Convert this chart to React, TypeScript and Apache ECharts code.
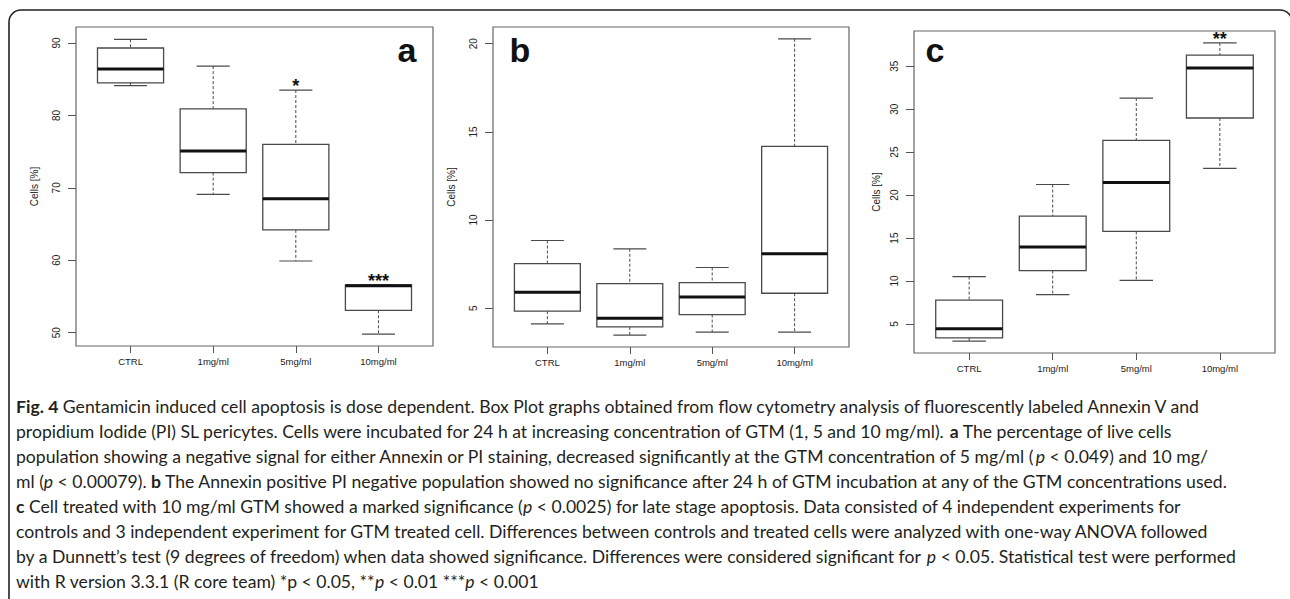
import React, { useEffect, useRef } from "react";
import * as echarts from "echarts";

// ---------- data ----------
const categories = ["CTRL", "1mg/ml", "5mg/ml", "10mg/ml"];
// each row: [lower whisker, Q1, median, Q3, upper whisker]
const panelA = [
  [84.1, 84.5, 86.4, 89.3, 90.5],
  [69.1, 72.1, 75.1, 80.9, 86.8],
  [59.9, 64.2, 68.5, 76.0, 83.5],
  [49.8, 53.1, 56.5, 56.6, 56.6],
];
const panelB = [
  [4.11, 4.83, 5.91, 7.53, 8.84],
  [3.47, 3.94, 4.43, 6.4, 8.37],
  [3.64, 4.64, 5.63, 6.45, 7.31],
  [3.64, 5.85, 8.09, 14.18, 20.28],
];
const panelC = [
  [3.02, 3.4, 4.44, 7.77, 10.52],
  [8.43, 11.22, 13.96, 17.55, 21.23],
  [10.09, 15.78, 21.46, 26.37, 31.29],
  [23.12, 28.97, 34.8, 36.28, 37.7],
];
const sigA = ["", "", "*", "***"];
const sigB = ["", "", "", ""];
const sigC = ["", "", "", "**"];
const ticksA = [50, 60, 70, 80, 90];
const ticksB = [5, 10, 15, 20];
const ticksC = [5, 10, 15, 20, 25, 30, 35];
const rangeA = [48.17, 92.2];
const rangeB = [2.8, 20.95];
const rangeC = [1.63, 39.09];
const panelLetters = ["a", "b", "c"];
const yName = "Cells [%]";

const captionLines = [
  "{b|Fig. 4} Gentamicin induced cell apoptosis is dose dependent. Box Plot graphs obtained from flow cytometry analysis of fluorescently labeled Annexin V and",
  "propidium Iodide (PI) SL pericytes. Cells were incubated for 24 h at increasing concentration of GTM (1, 5 and 10 mg/ml). {b|a} The percentage of live cells",
  "population showing a negative signal for either Annexin or PI staining, decreased significantly at the GTM concentration of 5 mg/ml ({i|p} < 0.049) and 10 mg/",
  "ml ({i|p} < 0.00079). {b|b} The Annexin positive PI negative population showed no significance after 24 h of GTM incubation at any of the GTM concentrations used.",
  "{b|c} Cell treated with 10 mg/ml GTM showed a marked significance ({i|p} < 0.0025) for late stage apoptosis. Data consisted of 4 independent experiments for",
  "controls and 3 independent experiment for GTM treated cell. Differences between controls and treated cells were analyzed with one-way ANOVA followed",
  "by a Dunnett\u2019s test (9 degrees of freedom) when data showed significance. Differences were considered significant for {i|p} < 0.05. Statistical test were performed",
  "with R version 3.3.1 (R core team) *p < 0.05, **{i|p} < 0.01 ***{i|p} < 0.001",
];

// ---------- layout ----------
const grids = [
  { left: 76, top: 27, width: 357, height: 319 },
  { left: 493, top: 27, width: 356, height: 320 },
  { left: 914, top: 31, width: 361, height: 322 },
];
const letterPos = [
  [407, 50],
  [520, 50],
  [935, 50],
];
const nameGaps = [37, 37, 33];

const AX_FONT = "'Liberation Sans Narrow', 'Liberation Sans', Arial, sans-serif";
const LINE = "#4a4a4a";
const CAP_FONT = "Lato, 'Open Sans', sans-serif";
const CAP_SIZE = 17.6;

function makeRender(sig: string[]) {
  return (params: any, api: any) => {
    const x = api.value(0);
    const lo = api.value(1);
    const q1 = api.value(2);
    const med = api.value(3);
    const q3 = api.value(4);
    const hi = api.value(5);
    const left = api.coord([x - 0.4, q3]);
    const right = api.coord([x + 0.4, q1]);
    const mid = api.coord([x, med]);
    const cl = api.coord([x - 0.2, hi])[0];
    const cr = api.coord([x + 0.2, hi])[0];
    const yHi = api.coord([x, hi])[1];
    const yLo = api.coord([x, lo])[1];
    const cx = mid[0];
    const children: any[] = [
      {
        type: "line",
        shape: { x1: cx, y1: yHi, x2: cx, y2: left[1] },
        style: { stroke: LINE, lineWidth: 1, lineDash: [3, 2] },
      },
      {
        type: "line",
        shape: { x1: cx, y1: right[1], x2: cx, y2: yLo },
        style: { stroke: LINE, lineWidth: 1, lineDash: [3, 2] },
      },
      {
        type: "line",
        shape: { x1: cl, y1: yHi, x2: cr, y2: yHi },
        style: { stroke: LINE, lineWidth: 1.2 },
      },
      {
        type: "line",
        shape: { x1: cl, y1: yLo, x2: cr, y2: yLo },
        style: { stroke: LINE, lineWidth: 1.2 },
      },
      {
        type: "rect",
        shape: { x: left[0], y: left[1], width: right[0] - left[0], height: right[1] - left[1] },
        style: { fill: "#fff", stroke: LINE, lineWidth: 1.3 },
      },
      {
        type: "line",
        shape: { x1: left[0], y1: mid[1], x2: right[0], y2: mid[1] },
        style: { stroke: "#111", lineWidth: 3 },
      },
    ];
    const s = sig[params.dataIndex];
    if (s) {
      children.push({
        type: "text",
        style: {
          text: s,
          x: cx,
          y: yHi - 4,
          align: "center",
          verticalAlign: "middle",
          fontSize: 18,
          fontWeight: "bold",
          fontFamily: "'Liberation Sans', Arial, sans-serif",
          fill: "#111",
        },
      });
    }
    return { type: "group", children };
  };
}

function toData(rows: number[][]) {
  return rows.map((r, i) => [i + 1, ...r]);
}

export default function App() {
  const ref = useRef<HTMLDivElement>(null);
  useEffect(() => {
    if (!ref.current) return;
    const chart = echarts.init(ref.current, undefined, { renderer: "svg" });
    const panels = [
      { rows: panelA, sig: sigA, ticks: ticksA, range: rangeA },
      { rows: panelB, sig: sigB, ticks: ticksB, range: rangeB },
      { rows: panelC, sig: sigC, ticks: ticksC, range: rangeC },
    ];
    const capStyle = { fontSize: CAP_SIZE, fontFamily: CAP_FONT, fill: "#231f20" };
    const option: any = {
      animation: false,
      backgroundColor: "#fff",
      grid: grids.map((g) => ({
        ...g,
        show: true,
        borderColor: "#666",
        borderWidth: 1.2,
        backgroundColor: "transparent",
        containLabel: false,
      })),
      xAxis: panels.map((p, i) => ({
        type: "value",
        gridIndex: i,
        min: 0.34,
        max: 4.66,
        axisLine: { show: false },
        splitLine: { show: false },
        axisTick: {
          show: true,
          length: 7,
          customValues: [1, 2, 3, 4],
          lineStyle: { color: "#555", width: 1 },
        },
        axisLabel: {
          customValues: [1, 2, 3, 4],
          formatter: (v: number) => categories[Math.round(v) - 1] || "",
          margin: 10,
          fontSize: 9.5,
          fontFamily: AX_FONT,
          color: "#222",
        },
      })),
      yAxis: panels.map((p, i) => ({
        type: "value",
        gridIndex: i,
        min: p.range[0],
        max: p.range[1],
        axisLine: { show: false },
        splitLine: { show: false },
        axisTick: {
          show: true,
          length: 8,
          customValues: p.ticks,
          lineStyle: { color: "#555", width: 1 },
        },
        axisLabel: {
          customValues: p.ticks,
          rotate: 90,
          margin: 15,
          fontSize: 10,
          fontFamily: AX_FONT,
          color: "#222",
        },
        name: yName,
        nameLocation: "middle",
        nameRotate: 90,
        nameGap: nameGaps[i],
        nameTextStyle: { fontSize: 10, fontFamily: "'Liberation Sans', Arial, sans-serif", color: "#222" },
      })),
      series: panels.map((p, i) => ({
        type: "custom",
        xAxisIndex: i,
        yAxisIndex: i,
        clip: false,
        encode: { x: 0, y: [1, 2, 3, 4, 5] },
        renderItem: makeRender(p.sig),
        data: toData(p.rows),
      })),
      graphic: [
        {
          type: "rect",
          shape: { x: 9, y: 10, width: 1283, height: 640, r: [12, 12, 0, 0] },
          style: { fill: "none", stroke: "#222", lineWidth: 1.6 },
          silent: true,
        },
        ...panelLetters.map((l, i) => ({
          type: "text",
          x: letterPos[i][0],
          y: letterPos[i][1],
          style: {
            text: l,
            align: "center",
            verticalAlign: "middle",
            fontSize: 34,
            fontWeight: "bold",
            fontFamily: "'Liberation Sans', Arial, sans-serif",
            fill: "#111",
          },
        })),
        ...captionLines.map((t, i) => ({
          type: "text",
          x: 16,
          y: 406 + i * 25,
          style: {
            text: t,
            align: "left",
            verticalAlign: "middle",
            ...capStyle,
            rich: {
              b: { ...capStyle, fontWeight: "bold" },
              i: { ...capStyle, fontStyle: "italic" },
            },
          },
        })),
      ],
    };
    chart.setOption(option);
    return () => chart.dispose();
  }, []);
  return (
    <div
      ref={ref}
      style={{ position: "absolute", left: 0, top: 0, width: 1290, height: 599 }}
    />
  );
}
